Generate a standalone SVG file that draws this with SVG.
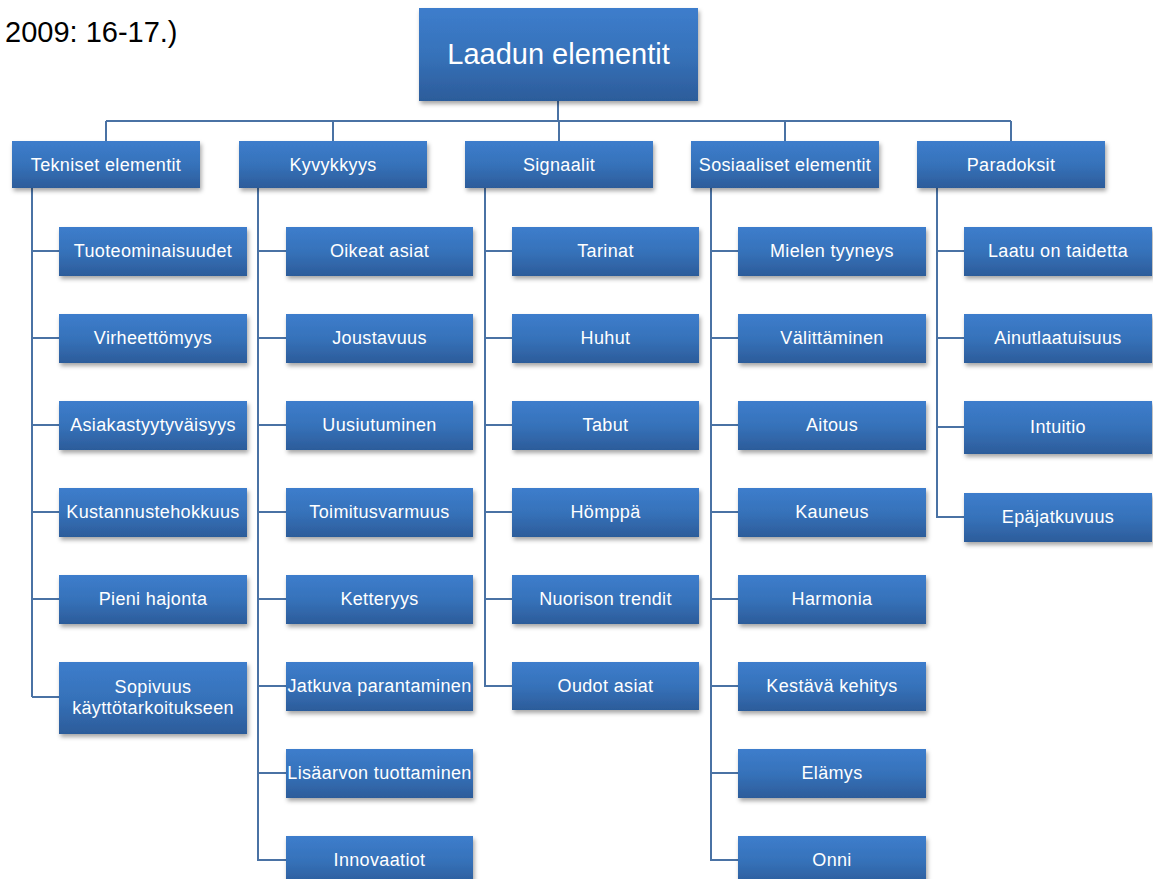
<svg xmlns="http://www.w3.org/2000/svg" width="1153" height="879" viewBox="0 0 1153 879">
<defs>
<linearGradient id="g" x1="0" y1="0" x2="0" y2="1">
<stop offset="0" stop-color="#3D7DCC"/>
<stop offset="0.5" stop-color="#3672BA"/>
<stop offset="1" stop-color="#2C5C9A"/>
</linearGradient>
<filter id="sh" x="-10%" y="-20%" width="125%" height="160%">
<feDropShadow dx="1.5" dy="3" stdDeviation="2" flood-color="#000" flood-opacity="0.35"/>
</filter>
</defs>
<style>
.b{fill:url(#g);filter:url(#sh)}
.t{font-family:"Liberation Sans",Arial,sans-serif;font-size:18px;fill:#fff;text-anchor:middle;letter-spacing:0.35px}
.r{font-family:"Liberation Sans",Arial,sans-serif;font-size:29px;fill:#fff;text-anchor:middle}
.c{fill:none;stroke:#4A72A4;stroke-width:2}
</style>
<rect width="1153" height="879" fill="#fff"/>
<text x="5" y="42" font-family="Liberation Sans,Arial,sans-serif" font-size="29" fill="#000">2009: 16-17.)</text>
<g id="connectors">
<path class="c" d="M558 101V121M106 121H1011M106 121V141M333 121V141M559 121V141M785 121V141M1011 121V141"/>
<path class="c" d="M32 188V697M32 251H59M32 338H59M32 425H59M32 512H59M32 599H59M32 697H59"/>
<path class="c" d="M258 188V860H286M258 251H286M258 338H286M258 425H286M258 512H286M258 599H286M258 686H286M258 773H286"/>
<path class="c" d="M485 188V686H512M485 251H512M485 338H512M485 425H512M485 512H512M485 599H512"/>
<path class="c" d="M711 188V860H738M711 251H738M711 338H738M711 425H738M711 512H738M711 599H738M711 686H738M711 773H738"/>
<path class="c" d="M937 188V517H964M937 251H964M937 338H964M937 427H964"/>
</g>
<g id="root"><rect class="b" x="419" y="8" width="279" height="93"/><text class="r" x="558.5" y="64">Laadun elementit</text></g>
<g id="tekniset"><rect class="b" x="12" y="141" width="188" height="47"/><text class="t" x="106" y="171">Tekniset elementit</text></g>
<g id="kyvykkyys"><rect class="b" x="239" y="141" width="188" height="47"/><text class="t" x="333" y="171">Kyvykkyys</text></g>
<g id="signaalit"><rect class="b" x="465" y="141" width="188" height="47"/><text class="t" x="559" y="171">Signaalit</text></g>
<g id="sosiaaliset"><rect class="b" x="691" y="141" width="188" height="47"/><text class="t" x="785" y="171">Sosiaaliset elementit</text></g>
<g id="paradoksit"><rect class="b" x="917" y="141" width="188" height="47"/><text class="t" x="1011" y="171">Paradoksit</text></g>

<g id="t1"><rect class="b" x="59" y="227" width="188" height="49"/><text class="t" x="153" y="257">Tuoteominaisuudet</text></g>
<g id="t2"><rect class="b" x="59" y="314" width="188" height="49"/><text class="t" x="153" y="344">Virheettömyys</text></g>
<g id="t3"><rect class="b" x="59" y="401" width="188" height="49"/><text class="t" x="153" y="431">Asiakastyytyväisyys</text></g>
<g id="t4"><rect class="b" x="59" y="488" width="188" height="49"/><text class="t" x="153" y="518">Kustannustehokkuus</text></g>
<g id="t5"><rect class="b" x="59" y="575" width="188" height="49"/><text class="t" x="153" y="605">Pieni hajonta</text></g>
<g id="t6"><rect class="b" x="59" y="662" width="188" height="72"/><text class="t" x="153" y="693">Sopivuus</text><text class="t" x="153" y="714">käyttötarkoitukseen</text></g>

<g id="k1"><rect class="b" x="286" y="227" width="187" height="49"/><text class="t" x="379.5" y="257">Oikeat asiat</text></g>
<g id="k2"><rect class="b" x="286" y="314" width="187" height="49"/><text class="t" x="379.5" y="344">Joustavuus</text></g>
<g id="k3"><rect class="b" x="286" y="401" width="187" height="49"/><text class="t" x="379.5" y="431">Uusiutuminen</text></g>
<g id="k4"><rect class="b" x="286" y="488" width="187" height="49"/><text class="t" x="379.5" y="518">Toimitusvarmuus</text></g>
<g id="k5"><rect class="b" x="286" y="575" width="187" height="49"/><text class="t" x="379.5" y="605">Ketteryys</text></g>
<g id="k6"><rect class="b" x="286" y="662" width="187" height="49"/><text class="t" x="379.5" y="692">Jatkuva parantaminen</text></g>
<g id="k7"><rect class="b" x="286" y="749" width="187" height="49"/><text class="t" x="379.5" y="779">Lisäarvon tuottaminen</text></g>
<g id="k8"><rect class="b" x="286" y="836" width="187" height="49"/><text class="t" x="379.5" y="866">Innovaatiot</text></g>

<g id="s1"><rect class="b" x="512" y="227" width="187" height="49"/><text class="t" x="605.5" y="257">Tarinat</text></g>
<g id="s2"><rect class="b" x="512" y="314" width="187" height="49"/><text class="t" x="605.5" y="344">Huhut</text></g>
<g id="s3"><rect class="b" x="512" y="401" width="187" height="49"/><text class="t" x="605.5" y="431">Tabut</text></g>
<g id="s4"><rect class="b" x="512" y="488" width="187" height="49"/><text class="t" x="605.5" y="518">Hömppä</text></g>
<g id="s5"><rect class="b" x="512" y="575" width="187" height="49"/><text class="t" x="605.5" y="605">Nuorison trendit</text></g>
<g id="s6"><rect class="b" x="512" y="662" width="187" height="48"/><text class="t" x="605.5" y="692">Oudot asiat</text></g>

<g id="so1"><rect class="b" x="738" y="227" width="188" height="49"/><text class="t" x="832" y="257">Mielen tyyneys</text></g>
<g id="so2"><rect class="b" x="738" y="314" width="188" height="49"/><text class="t" x="832" y="344">Välittäminen</text></g>
<g id="so3"><rect class="b" x="738" y="401" width="188" height="49"/><text class="t" x="832" y="431">Aitous</text></g>
<g id="so4"><rect class="b" x="738" y="488" width="188" height="49"/><text class="t" x="832" y="518">Kauneus</text></g>
<g id="so5"><rect class="b" x="738" y="575" width="188" height="49"/><text class="t" x="832" y="605">Harmonia</text></g>
<g id="so6"><rect class="b" x="738" y="662" width="188" height="49"/><text class="t" x="832" y="692">Kestävä kehitys</text></g>
<g id="so7"><rect class="b" x="738" y="749" width="188" height="49"/><text class="t" x="832" y="779">Elämys</text></g>
<g id="so8"><rect class="b" x="738" y="836" width="188" height="49"/><text class="t" x="832" y="866">Onni</text></g>

<g id="p1"><rect class="b" x="964" y="227" width="188" height="49"/><text class="t" x="1058" y="257">Laatu on taidetta</text></g>
<g id="p2"><rect class="b" x="964" y="314" width="188" height="49"/><text class="t" x="1058" y="344">Ainutlaatuisuus</text></g>
<g id="p3"><rect class="b" x="964" y="401" width="188" height="53"/><text class="t" x="1058" y="433">Intuitio</text></g>
<g id="p4"><rect class="b" x="964" y="493" width="188" height="49"/><text class="t" x="1058" y="523">Epäjatkuvuus</text></g>
</svg>
